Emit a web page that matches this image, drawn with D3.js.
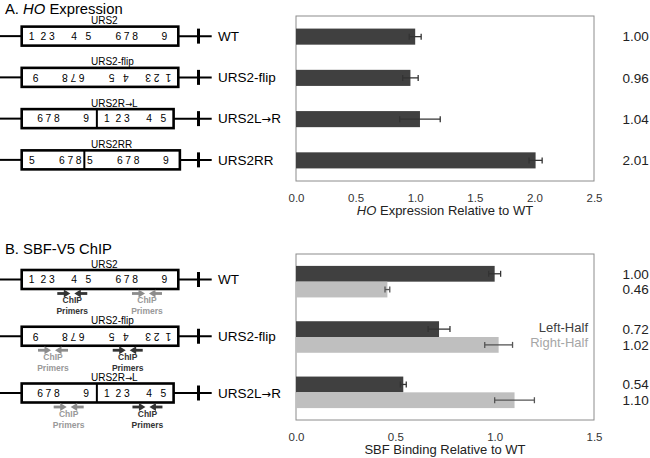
<!DOCTYPE html>
<html>
<head>
<meta charset="utf-8">
<script src="https://cdn.jsdelivr.net/npm/d3@7"></script>
<style>
  body { margin: 0; background: #fff; }
  svg { font-family: "Liberation Sans", Arial, sans-serif; }
</style>
</head>
<body>
<div id="chart"></div>
<script>
// ---- data ----
const hoCategories = ["WT", "URS2-flip", "URS2L→R", "URS2RR"];
const hoValues = [1.00, 0.96, 1.04, 2.01];
const hoErrors = [0.05, 0.065, 0.17, 0.055];
const hoTicks = [0, 0.5, 1.0, 1.5, 2.0, 2.5];

const chipCategories = ["WT", "URS2-flip", "URS2L→R"];
const chipSeries = ["Left-Half", "Right-Half"];
const chipLeft = [1.00, 0.72, 0.54];
const chipLeftErr = [0.03, 0.055, 0.015];
const chipRight = [0.46, 1.02, 1.10];
const chipRightErr = [0.012, 0.07, 0.10];
const chipTicks = [0, 0.5, 1.0, 1.5];

// binding sites inside URS2, position along wild-type URS2 (0-100)
const siteNames = ["1", "2", "3", "4", "5", "6", "7", "8", "9"];
const sitePos = [6.4, 13.8, 19.2, 33.4, 42.5, 61.7, 67.0, 72.4, 91.1];

// each construct is a list of pieces of WT URS2 [from, to]; from > to means inverted
const constructNames = ["URS2", "URS2-flip", "URS2R→L", "URS2RR"];
const constructPieces = [
  [[0, 100]],
  [[100, 0]],
  [[50, 98], [0, 49]],
  [[36, 76], [39, 100]]
];
// ChIP primer pairs on WT URS2 (left half, right half)
const primerPos = [32.3, 80];

const width = 650, height = 458;
const darkGrey = "#404040", lightGrey = "#bfbfbf";

const svg = d3.select("#chart")
  .append("svg")
  .attr("width", width)
  .attr("height", height);

// text with the arrow glyph taken from DejaVu
function label(sel, str) {
  str.split("→").forEach((part, k) => {
    if (k > 0) sel.append("tspan").attr("font-family", "DejaVu Sans").attr("font-size", "0.85em").text("→");
    sel.append("tspan").text(part);
  });
  return sel;
}

// length along URS2 -> pixels
const urs = d3.scaleLinear().domain([0, 100]).range([0, 156.6]);
const boxLeft = 21.7, boxH = 19;

function drawConstruct(g, idx, cy, primers) {
  const pieces = constructPieces[idx];
  // lay pieces side by side
  let x0 = boxLeft;
  const laid = pieces.map(p => {
    const len = urs(Math.abs(p[1] - p[0]));
    const o = { from: p[0], to: p[1], x: x0, w: len };
    x0 += len;
    return o;
  });
  const boxRight = x0;
  const top = cy - boxH / 2;

  // every place a WT position ends up in this construct
  function place(pos) {
    const out = [];
    laid.forEach(p => {
      const lo = Math.min(p.from, p.to), hi = Math.max(p.from, p.to);
      if (pos >= lo && pos <= hi) {
        out.push({ x: p.x + urs(Math.abs(pos - p.from)), flip: p.from > p.to });
      }
    });
    return out;
  }

  g.append("line").attr("x1", 0).attr("x2", boxLeft).attr("y1", cy).attr("y2", cy)
    .attr("stroke", "#000").attr("stroke-width", 2);
  g.append("line").attr("x1", boxRight).attr("x2", 211.7).attr("y1", cy).attr("y2", cy)
    .attr("stroke", "#000").attr("stroke-width", 2);
  g.append("line").attr("x1", 198.5).attr("x2", 198.5).attr("y1", cy - 7.5).attr("y2", cy + 7.5)
    .attr("stroke", "#000").attr("stroke-width", 3);

  g.append("rect")
    .attr("x", boxLeft).attr("y", top)
    .attr("width", boxRight - boxLeft).attr("height", boxH)
    .attr("fill", "#fff").attr("stroke", "#000").attr("stroke-width", 2.6);
  laid.slice(1).forEach(p => {
    g.append("line").attr("x1", p.x).attr("x2", p.x).attr("y1", top).attr("y2", top + boxH)
      .attr("stroke", "#000").attr("stroke-width", 2);
  });

  siteNames.forEach((s, i) => {
    place(sitePos[i]).forEach(pl => {
      g.append("text")
        .attr("x", pl.x).attr("y", cy + 3.7)
        .attr("text-anchor", "middle")
        .attr("font-size", "10.3px")
        .attr("transform", pl.flip ? `rotate(180, ${pl.x}, ${cy})` : null)
        .text(s);
    });
  });

  label(g.append("text")
    .attr("x", 91).attr("y", top - 2.5)
    .attr("font-size", "10px"), constructNames[idx]);

  if (primers) {
    primerPos.forEach((pos, i) => {
      place(pos).forEach(pl => {
        const col = i === 0 ? "#333" : "#8c8c8c";
        const tcol = i === 0 ? "#333" : "#999";
        const ay = top + boxH + 4.5;
        const pg = g.append("g").attr("fill", col);
        // arrow pointing right, arrow pointing left, heads meeting in the middle
        [-1, 1].forEach(side => {
          const tail = pl.x + side * 15, head = pl.x + side * 2;
          pg.append("rect")
            .attr("x", Math.min(tail, head + side * 5)).attr("y", ay - 1.4)
            .attr("width", Math.abs(tail - (head + side * 5))).attr("height", 2.8);
          pg.append("path")
            .attr("d", `M${head},${ay} L${head + side * 6.5},${ay - 4} L${head + side * 6.5},${ay + 4} Z`);
        });
        g.append("text").attr("x", pl.x).attr("y", ay + 9.5)
          .attr("text-anchor", "middle").attr("font-size", "8.5px").attr("font-weight", "bold")
          .attr("fill", tcol).text("ChIP");
        g.append("text").attr("x", pl.x).attr("y", ay + 20.5)
          .attr("text-anchor", "middle").attr("font-size", "8.5px").attr("font-weight", "bold")
          .attr("fill", tcol).text("Primers");
      });
    });
  }
}

function frameAndAxis(x, yTop, yBottom, ticks, titleParts) {
  svg.append("rect")
    .attr("x", x.range()[0]).attr("y", yTop)
    .attr("width", x.range()[1] - x.range()[0]).attr("height", yBottom - yTop)
    .attr("fill", "none").attr("stroke", "#8c8c8c").attr("stroke-width", 1);
  const ax = svg.append("g")
    .attr("transform", `translate(0,${yBottom})`)
    .call(d3.axisBottom(x).tickValues(ticks).tickFormat(d3.format(".1f")).tickSize(0).tickPadding(12.5));
  ax.select(".domain").remove();
  ax.selectAll("text")
    .attr("font-family", "Liberation Sans, Arial, sans-serif")
    .attr("font-size", "11.5px").attr("fill", "#333");
  const t = svg.append("text")
    .attr("x", (x.range()[0] + x.range()[1]) / 2).attr("y", yBottom + 34)
    .attr("text-anchor", "middle").attr("font-size", "13px").attr("fill", "#222");
  titleParts.forEach(([s, it]) => t.append("tspan").attr("font-style", it ? "italic" : null).text(s));
}

function errorBar(x, v, e, cy, col) {
  const g = svg.append("g").attr("stroke", col).attr("stroke-width", 1.3);
  g.append("line").attr("x1", x(v - e)).attr("x2", x(v + e)).attr("y1", cy).attr("y2", cy);
  g.append("line").attr("x1", x(v - e)).attr("x2", x(v - e)).attr("y1", cy - 3).attr("y2", cy + 3);
  g.append("line").attr("x1", x(v + e)).attr("x2", x(v + e)).attr("y1", cy - 3).attr("y2", cy + 3);
}

// ---- A. HO expression ----
const titleA = svg.append("text").attr("x", 5).attr("y", 13.5).attr("font-size", "14.8px");
titleA.append("tspan").text("A. ");
titleA.append("tspan").attr("font-style", "italic").text("HO");
titleA.append("tspan").text(" Expression");

const xA = d3.scaleLinear().domain([0, 2.5]).range([296, 594]);
const yA = d3.scaleBand().domain(hoCategories).range([16, 181]).paddingInner(0.61).paddingOuter(0.305);

frameAndAxis(xA, 16, 181, hoTicks, [["HO", true], [" Expression Relative to WT", false]]);

hoCategories.forEach((c, i) => {
  const cy = yA(c) + yA.bandwidth() / 2;
  svg.append("rect")
    .attr("x", xA(0)).attr("y", yA(c))
    .attr("width", xA(hoValues[i]) - xA(0)).attr("height", yA.bandwidth())
    .attr("fill", darkGrey);
  errorBar(xA, hoValues[i], hoErrors[i], cy, "#333");
  svg.append("text").attr("x", 622.5).attr("y", cy).attr("dy", "0.35em")
    .attr("font-size", "13.5px").attr("fill", "#222").text(d3.format(".2f")(hoValues[i]));

  const g = svg.append("g");
  drawConstruct(g, i, cy - 0.5, false);
  label(g.append("text").attr("x", 218).attr("y", cy - 0.5).attr("dy", "0.35em")
    .attr("font-size", "13.5px"), c);
});

// ---- B. SBF-V5 ChIP ----
svg.append("text").attr("x", 5).attr("y", 254).attr("font-size", "14.8px").text("B. SBF-V5 ChIP");

const xB = d3.scaleLinear().domain([0, 1.5]).range([296, 594]);
const yB = d3.scaleBand().domain(chipCategories).range([254, 420]).paddingInner(0.43).paddingOuter(0.215);
const yInner = d3.scaleBand().domain(chipSeries).range([0, yB.bandwidth()]);
// the construct drawings sit on their own row positions
const yDiag = d3.scalePoint().domain(chipCategories).range([279.5, 393]);

frameAndAxis(xB, 254, 420, chipTicks, [["SBF Binding Relative to WT", false]]);

const chipVals = [chipLeft, chipRight];
const chipErrs = [chipLeftErr, chipRightErr];
const chipFill = [darkGrey, lightGrey];

chipCategories.forEach((c, i) => {
  chipSeries.forEach((s, j) => {
    const y0 = yB(c) + yInner(s);
    const cy = y0 + yInner.bandwidth() / 2;
    svg.append("rect")
      .attr("x", xB(0)).attr("y", y0)
      .attr("width", xB(chipVals[j][i]) - xB(0)).attr("height", yInner.bandwidth())
      .attr("fill", chipFill[j]);
    errorBar(xB, chipVals[j][i], chipErrs[j][i], cy, j === 0 ? "#333" : "#555");
    svg.append("text").attr("x", 622.5).attr("y", cy).attr("dy", "0.35em")
      .attr("font-size", "13.5px").attr("fill", "#222").text(d3.format(".2f")(chipVals[j][i]));
  });

  const cy = yDiag(c);
  const g = svg.append("g");
  drawConstruct(g, i, cy, true);
  label(g.append("text").attr("x", 218).attr("y", cy).attr("dy", "0.35em")
    .attr("font-size", "13.5px"), c);
});

// legend, next to the flip bars
chipSeries.forEach((s, j) => {
  svg.append("text")
    .attr("x", 588)
    .attr("y", yB("URS2-flip") + yInner(s) + yInner.bandwidth() / 2 - 2)
    .attr("dy", "0.35em")
    .attr("text-anchor", "end")
    .attr("font-size", "13px")
    .attr("fill", j === 0 ? "#404040" : "#a6a6a6")
    .text(s);
});
</script>
</body>
</html>
